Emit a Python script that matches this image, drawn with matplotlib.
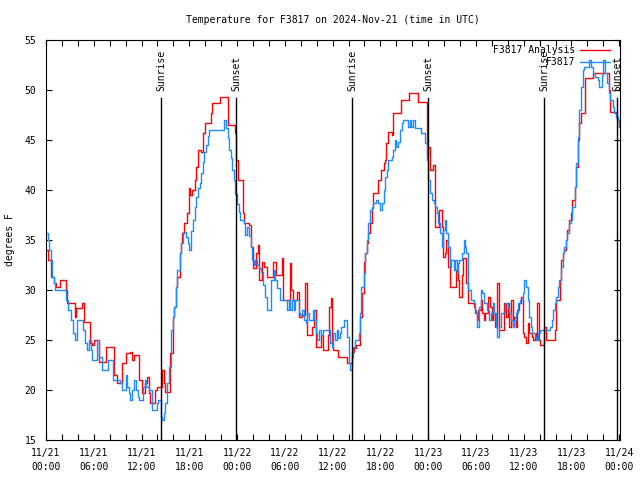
import matplotlib
matplotlib.use("Agg")
import matplotlib.pyplot as plt

# ── data (hours after 11/21 00:00 UTC, degrees F) ─────────
ANALYSIS_HOURS = [
    0.0, 0.3, 0.6, 1.0, 1.3, 1.8, 2.5, 2.7, 3.6, 3.8, 4.5, 4.8, 5.5, 5.8, 6.0, 6.7,
    7.5, 8.6, 8.9, 9.6, 10.0, 10.5, 10.8, 11.1, 11.7, 12.0, 12.4, 12.7, 12.9, 13.1,
    13.7, 14.0, 14.6, 14.8, 15.0, 15.6, 15.9, 16.1, 16.3, 16.5, 16.8, 17.0, 17.1,
    17.3, 17.7, 17.9, 18.1, 18.3, 18.7, 18.9, 19.1, 19.5, 19.7, 20.0, 20.7, 20.9,
    21.8, 22.8, 23.7, 23.85, 24.1, 24.7, 24.9, 25.5, 25.75, 26.0, 26.4, 26.6, 26.8,
    27.1, 27.4, 27.7, 28.5, 28.9, 29.6, 29.8, 30.6, 30.8, 31.0, 31.5, 31.8, 32.2,
    32.5, 32.8, 33.4, 33.7, 33.9, 34.5, 34.8, 35.4, 35.6, 35.8, 35.9, 36.1, 36.7,
    37.8, 38.4, 38.7, 39.0, 39.4, 39.7, 39.9, 40.1, 40.3, 40.5, 40.7, 40.9, 41.1,
    41.7, 42.1, 42.4, 42.6, 42.7, 43.0, 43.4, 43.6, 44.6, 45.6, 46.7, 47.8, 47.9,
    48.0, 48.2, 48.6, 48.8, 48.9, 49.4, 49.7, 49.9, 50.1, 50.3, 50.5, 50.7, 50.8,
    51.5, 51.7, 51.9, 52.2, 52.4, 52.8, 53.0, 53.7, 53.9, 54.1, 54.3, 54.6, 54.8,
    55.0, 55.2, 55.5, 55.8, 56.0, 56.2, 56.4, 56.6, 56.7, 56.9, 57.5, 57.8, 58.0,
    58.2, 58.4, 58.6, 58.8, 59.0, 59.2, 59.4, 59.7, 59.9, 60.1, 60.3, 60.5, 60.7,
    61.0, 61.2, 61.4, 61.6, 61.7, 61.9, 62.0, 62.6, 62.8, 63.9, 64.1, 64.6, 64.7,
    64.9, 65.1, 65.3, 65.5, 65.7, 65.9, 66.1, 66.4, 66.6, 66.8, 67.0, 67.2, 67.7,
    68.7, 70.7, 70.9, 71.7, 72.0, 72.1,
]
ANALYSIS_TEMPS = [
    34.0, 33.0, 31.3, 30.7, 30.3, 31.0, 30.0, 28.7, 27.3, 28.2, 28.7, 26.8, 24.7, 24.5, 25.0, 22.8,
    24.3, 21.5, 20.7, 22.7, 23.7, 23.8, 23.0, 23.5, 21.0, 19.7, 20.7, 21.3, 19.7, 18.7,
    20.0, 20.3, 22.0, 20.7, 19.8, 23.7, 27.3, 28.3, 30.3, 31.3, 33.7, 34.7, 35.7,
    36.7, 37.7, 40.2, 39.5, 40.0, 41.0, 42.3, 44.0, 43.8, 45.7, 46.7, 47.7, 48.7,
    49.3, 46.5, 45.7, 43.0, 41.0, 37.7, 36.7, 36.5, 34.3, 32.2, 33.7, 34.5, 31.0,
    32.8, 32.3, 31.3, 32.8, 31.5, 33.2, 29.0, 32.7, 30.0, 29.0, 29.8, 27.3, 27.5,
    30.7, 25.5, 26.3, 28.0, 24.3, 25.5, 24.0, 25.5, 28.3, 29.2, 24.7, 24.0, 23.3,
    22.7, 23.8, 24.2, 24.5, 27.3, 29.7, 32.8, 33.7, 34.7, 35.7, 36.7, 38.2, 39.7,
    41.0, 42.0, 42.7, 43.0, 44.7, 45.8, 45.5, 47.7, 49.0, 49.7, 48.8, 46.3, 43.5,
    44.3, 42.0, 42.5, 40.0, 36.3, 38.0, 36.3, 33.3, 33.7, 35.0, 32.3, 31.3, 30.3,
    32.0, 31.0, 29.3, 31.5, 33.2, 30.7, 28.7, 28.3, 27.7, 27.0, 28.0, 29.0, 27.7,
    27.0, 27.7, 29.3, 28.3, 27.0, 27.7, 26.3, 28.3, 30.7, 26.0, 28.7, 27.3, 28.7,
    26.3, 29.0, 26.3, 27.3, 26.3, 28.0, 28.7, 29.3, 25.7, 25.3, 24.7, 26.7, 25.7,
    25.3, 25.0, 25.7, 25.0, 28.7, 25.0, 24.5, 26.3, 25.0, 26.0, 29.0, 31.0, 33.0,
    33.7, 34.0, 35.0, 36.0, 37.0, 37.7, 39.0, 40.3, 42.3, 45.0, 46.7, 47.7, 51.2,
    51.7, 50.0, 47.8, 47.0, 46.3, 46.3,
]

STATION_HOURS = [
    0.0, 0.2, 0.4, 0.6, 0.8, 1.0, 1.1, 2.5, 2.8, 3.1, 3.4, 3.6, 3.9, 4.5, 4.7, 4.9,
    5.2, 5.4, 5.6, 5.8, 6.3, 6.4, 6.7, 7.0, 7.8, 8.4, 9.3, 9.6, 10.0, 10.2, 10.4,
    10.6, 10.8, 11.1, 11.3, 11.5, 11.7, 12.2, 12.4, 12.6, 12.9, 13.3, 13.9, 14.1,
    14.4, 14.6, 14.8, 15.0, 15.2, 15.4, 15.7, 15.9, 16.1, 16.3, 16.5, 16.8, 17.0,
    17.2, 17.6, 17.8, 18.0, 18.2, 18.5, 18.7, 18.9, 19.1, 19.3, 19.5, 19.7, 19.9,
    20.1, 20.3, 20.5, 22.2, 22.4, 22.6, 22.8, 23.0, 23.2, 23.4, 23.6, 23.8, 24.0,
    24.2, 24.4, 24.9, 25.0, 25.2, 25.5, 25.7, 25.9, 26.1, 26.3, 26.5, 26.8, 27.0,
    27.2, 27.3, 27.5, 27.7, 28.2, 28.3, 28.6, 28.8, 29.0, 29.4, 30.1, 30.3, 30.5,
    30.7, 30.9, 31.1, 31.3, 31.8, 31.9, 32.2, 32.4, 32.6, 32.8, 33.0, 33.3, 33.5,
    33.7, 33.9, 34.1, 34.3, 34.6, 34.8, 35.5, 35.7, 35.9, 36.1, 36.3, 36.5, 36.7,
    36.9, 37.1, 37.4, 37.8, 38.0, 38.2, 38.4, 38.6, 38.8, 39.3, 39.4, 39.6, 39.9,
    40.1, 40.3, 40.5, 40.7, 41.0, 41.1, 41.4, 41.7, 41.9, 42.2, 42.4, 42.6, 42.8,
    43.0, 43.4, 43.6, 43.8, 44.0, 44.2, 44.5, 44.7, 44.9, 45.3, 45.5, 45.7, 45.9,
    46.1, 46.4, 47.1, 47.6, 47.8, 48.0, 48.2, 48.5, 48.7, 48.9, 49.1, 49.3, 49.5,
    49.7, 49.9, 50.1, 50.3, 50.5, 50.7, 50.9, 51.2, 51.4, 51.6, 51.8, 51.9, 52.2,
    52.5, 52.6, 52.8, 53.0, 53.4, 53.7, 53.9, 54.0, 54.2, 54.4, 54.6, 54.8, 55.0,
    55.4, 55.7, 55.9, 56.1, 56.3, 56.5, 56.7, 56.9, 57.1, 57.6, 58.0, 58.2, 58.4,
    58.6, 58.8, 59.0, 59.3, 59.5, 59.9, 60.1, 60.3, 60.5, 60.7, 60.9, 61.1, 61.4,
    61.6, 61.8, 62.0, 63.0, 63.3, 63.5, 63.7, 63.9, 64.1, 64.3, 64.5, 64.7, 64.9,
    65.1, 65.3, 65.5, 65.7, 65.9, 66.1, 66.4, 66.6, 66.8, 67.0, 67.2, 67.4, 67.6,
    67.8, 68.2, 68.4, 68.7, 68.9, 69.3, 69.5, 69.8, 70.0, 70.2, 70.5, 70.7, 70.9,
    71.2, 71.4, 71.6, 71.8, 72.0, 72.1,
]
STATION_TEMPS = [
    35.7, 35.0, 34.0, 33.0, 31.3, 30.7, 30.0, 29.0, 28.0, 27.0, 25.7, 25.0, 27.0, 27.0, 26.0, 24.7,
    24.0, 25.0, 24.0, 23.0, 23.0, 25.0, 23.3, 22.0, 23.0, 21.0, 20.7, 20.0, 21.5, 20.3, 19.7,
    19.0, 20.0, 21.0, 20.0, 19.3, 19.0, 20.3, 21.0, 20.3, 20.0, 18.0, 18.7, 19.0,
    17.3, 17.0, 17.7, 18.7, 20.7, 22.3, 26.0, 27.3, 28.3, 30.3, 32.0, 33.7, 34.7,
    35.8, 35.3, 34.7, 34.0, 35.9, 37.0, 38.3, 39.3, 40.2, 40.7, 41.7, 42.8, 43.8,
    44.5, 45.4, 46.0, 46.0, 47.0, 46.2, 45.2, 44.0, 43.2, 42.0, 41.0, 39.6, 38.6,
    37.8, 37.0, 36.7, 35.5, 36.3, 35.4, 34.3, 33.0, 32.5, 33.0, 32.5, 32.2, 31.8,
    31.3, 30.5, 29.3, 28.0, 28.0, 31.0, 32.0, 31.0, 30.2, 29.0, 29.0, 28.0, 29.0,
    28.0, 29.0, 28.0, 29.0, 27.7, 27.5, 28.0, 27.0, 26.7, 27.7, 27.0, 27.0, 28.0,
    27.0, 25.7, 25.0, 26.0, 25.5, 26.0, 26.0, 24.7, 24.3, 25.7, 25.0, 26.0, 25.2,
    25.7, 26.3, 27.0, 25.3, 22.7, 22.0, 23.3, 24.3, 25.0, 25.7, 27.7, 30.3, 31.7,
    33.7, 35.0, 36.7, 38.0, 38.3, 38.7, 39.0, 38.7, 38.0, 38.7, 40.0, 41.3, 42.0,
    43.0, 43.3, 44.0, 45.0, 44.3, 44.8, 46.0, 46.7, 47.0, 47.0, 46.3, 47.0, 46.3,
    47.0, 46.2, 45.7, 44.7, 43.0, 41.0, 39.7, 39.0, 38.7, 38.3, 37.7, 36.7, 35.7,
    34.3, 36.0, 37.0, 35.7, 34.3, 32.3, 33.0, 32.0, 33.0, 31.7, 32.7, 33.0, 33.7,
    35.0, 34.3, 33.7, 30.0, 29.0, 28.7, 28.0, 27.7, 26.3, 28.3, 30.0, 29.7, 28.7,
    28.0, 27.0, 27.7, 28.7, 27.7, 26.3, 25.3, 26.3, 27.7, 28.7, 28.3, 27.7, 27.0,
    26.3, 27.0, 27.7, 28.7, 29.0, 29.7, 31.0, 30.3, 29.0, 27.3, 26.3, 25.7, 25.3,
    25.0, 25.7, 26.0, 26.0, 26.3, 27.0, 28.0, 28.7, 29.3, 30.3, 31.0, 32.3, 33.7,
    34.3, 35.0, 35.7, 36.7, 37.0, 38.3, 40.3, 42.7, 45.3, 48.0, 50.3, 52.0, 52.3,
    52.3, 53.0, 52.3, 51.7, 51.3, 51.0, 50.3, 51.5, 53.0, 51.7, 50.7, 49.7, 49.0,
    48.3, 47.7, 47.3, 47.0, 46.3, 46.3,
]

SUNRISE_HOURS = [14.45, 38.44, 62.56]
SUNSET_HOURS = [23.87, 47.99, 71.73]

TICK_HOURS = [0, 6, 12, 18, 24, 30, 36, 42, 48, 54, 60, 66, 72]
TICK_LABELS = [
    "11/21\n00:00", "11/21\n06:00", "11/21\n12:00", "11/21\n18:00",
    "11/22\n00:00", "11/22\n06:00", "11/22\n12:00", "11/22\n18:00",
    "11/23\n00:00", "11/23\n06:00", "11/23\n12:00", "11/23\n18:00",
    "11/24\n00:00",
]
Y_TICKS = [15, 20, 25, 30, 35, 40, 45, 50, 55]

# ── style ─────────────────────────────────────
FONT = "DejaVu Sans Mono"
FS = 7
C_ANALYSIS = "#ff0000"
C_STATION = "#1a8cff"

plt.rcParams["font.family"] = FONT
plt.rcParams["font.size"] = FS

fig = plt.figure(figsize=(6.4, 4.8), dpi=100)
ax = fig.add_axes([46 / 640, 40 / 480, 574 / 640, 400 / 480])

ax.step(ANALYSIS_HOURS, ANALYSIS_TEMPS, where="post", color=C_ANALYSIS, lw=1.0,
        label="F3817 Analysis")
ax.step(STATION_HOURS, STATION_TEMPS, where="post", color=C_STATION, lw=1.0,
        label="F3817")

# sunrise / sunset markers
for hrs, name in ((SUNRISE_HOURS, "Sunrise"), (SUNSET_HOURS, "Sunset")):
    for h in hrs:
        ax.axvline(h, ymin=0, ymax=0.855, color="black", lw=1.0)
        ax.text(h, 0.872, name, transform=ax.get_xaxis_transform(),
                rotation=90, ha="center", va="bottom", fontsize=FS)

ax.set_xlim(0, 72.1)
ax.set_ylim(15, 55)
ax.set_xticks(TICK_HOURS)
ax.set_xticklabels(TICK_LABELS, linespacing=1.45)
ax.set_xticks(range(0, 73, 2), minor=True)
ax.set_yticks(Y_TICKS)

ax.tick_params(which="both", direction="in", length=4, width=0.8,
               top=True, right=True, labelsize=FS)
ax.tick_params(axis="x", which="major", pad=6)
ax.tick_params(axis="y", which="major", pad=7)
for spine in ax.spines.values():
    spine.set_linewidth(0.8)

leg = ax.legend(loc="upper right", bbox_to_anchor=(0.9826, 0.9875),
                frameon=False, markerfirst=False, borderaxespad=0, borderpad=0,
                handlelength=3.1, handletextpad=0.5, labelspacing=0.25,
                fontsize=FS)

fig.text(333 / 640, 1 - 20 / 480, "Temperature for F3817 on 2024-Nov-21 (time in UTC)",
         ha="center", va="center", fontsize=FS)
fig.text(10 / 640, 0.5, "degrees F", rotation=90, ha="center", va="center", fontsize=FS)

fig.savefig("out.png", dpi=100)
